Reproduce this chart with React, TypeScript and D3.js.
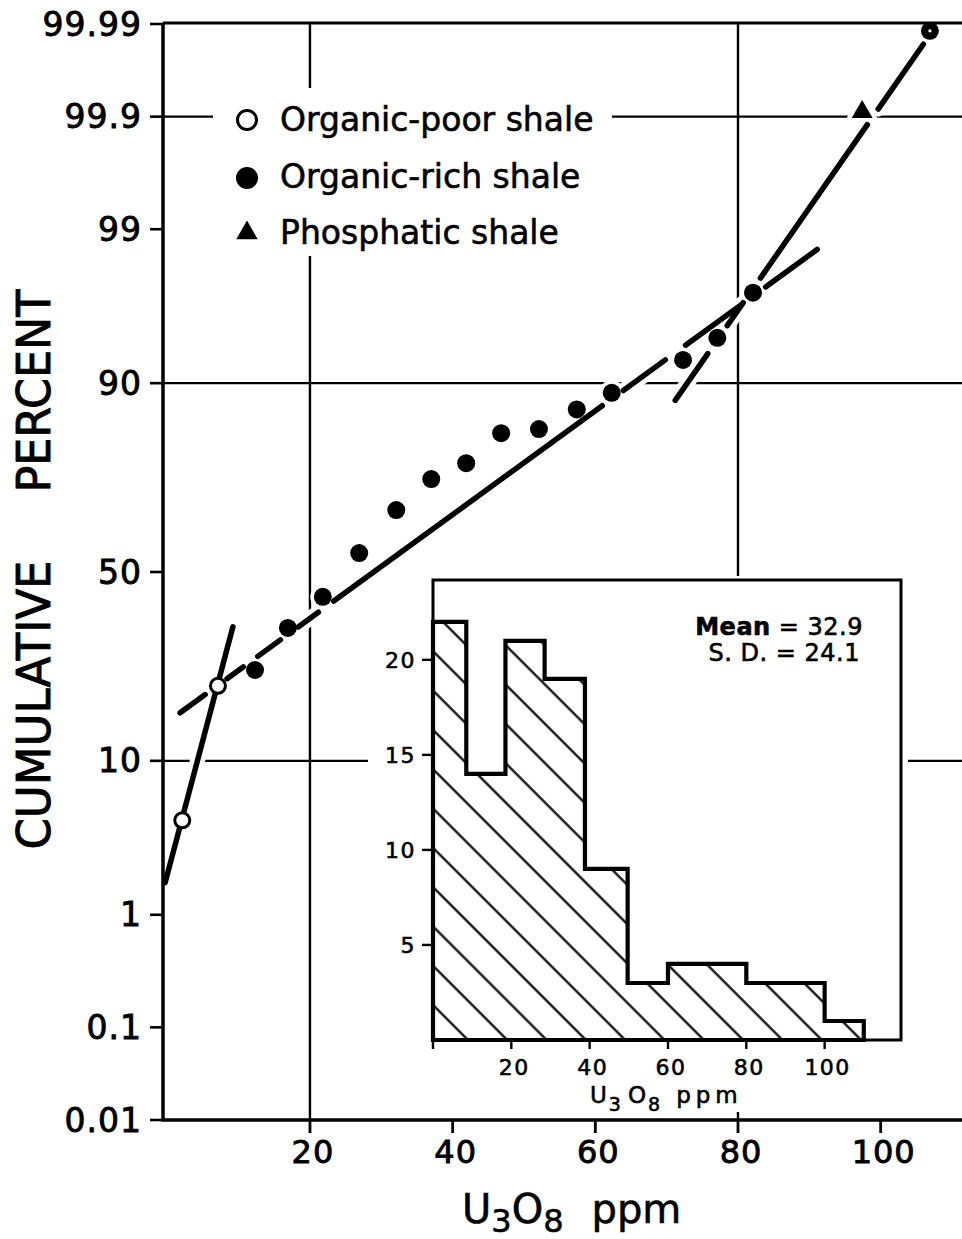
import React from "react";
import * as d3 from "d3";

// U3O8 cumulative probability plot
const poorPpm = [2.1, 7.1];
const poorPct = [4.6, 22.0];
const richPpm = [12.3, 16.9, 21.8, 26.9, 32.1, 37.0, 41.9, 46.8, 52.1, 57.4, 62.3, 72.3, 77.1, 82.1, 106.9];
const richPct = [25.3, 35.2, 43.3, 55.1, 66.3, 73.6, 77.0, 82.7, 83.4, 86.5, 88.8, 92.5, 94.4, 97.1, 99.988];
const phosPpm = [97.4];
const phosPct = [99.91];

// fitted populations (end points of each straight line)
const fitPpm = [[-0.3, 9.2], [1.8, 91.1], [71.2, 106.0]];
const fitPct = [[1.75, 35.5], [16.96, 98.57], [87.8, 99.983]];

const yTicks = [0.01, 0.1, 1, 10, 50, 90, 99, 99.9, 99.99];
const yTickLabels = ["0.01", "0.1", "1", "10", "50", "90", "99", "99.9", "99.99"];
const yGrid = [10, 90, 99.9];
const xTicks = [20, 40, 60, 80, 100];
const xGrid = [20, 80];

const legendNames = ["Organic-poor shale", "Organic-rich shale", "Phosphatic shale"];

// inset histogram
const binEdges = [0, 8.5, 18.5, 28.5, 38.8, 49.7, 60, 80, 100, 110];
const binCounts = [22, 14, 21, 19, 9, 3, 4, 3, 1];
const histXTicks = [0, 20, 40, 60, 80, 100];
const histYTicks = [5, 10, 15, 20];
const statLines = [["Mean", " = 32.9"], ["S. D.", " = 24.1"]];

// hand-drawn dash pattern of the fitted lines
const fitDash = [
  "none",
  "31 27 20 18 28 22 25 19 332 26 52 25 69 30 64",
  "57 34 28 30 187 19 79",
];

// inverse normal cdf (Acklam)
function probit(p: number) {
  const a = [-39.69683028665376, 220.9460984245205, -275.9285104469687, 138.357751867269, -30.66479806614716, 2.506628277459239];
  const b = [-54.47609879822406, 161.5858368580409, -155.6989798598866, 66.80131188771972, -13.28068155288572];
  const c = [-0.007784894002430293, -0.3223964580411365, -2.400758277161838, -2.549671010249855, 4.374664141464968, 2.938163982698783];
  const d = [0.007784695709041462, 0.3224671290700398, 2.445134137142996, 3.754408661907416];
  const pl = 0.02425;
  if (p < pl) {
    const q = Math.sqrt(-2 * Math.log(p));
    return (((((c[0] * q + c[1]) * q + c[2]) * q + c[3]) * q + c[4]) * q + c[5]) / ((((d[0] * q + d[1]) * q + d[2]) * q + d[3]) * q + 1);
  }
  if (p > 1 - pl) {
    const q = Math.sqrt(-2 * Math.log(1 - p));
    return -(((((c[0] * q + c[1]) * q + c[2]) * q + c[3]) * q + c[4]) * q + c[5]) / ((((d[0] * q + d[1]) * q + d[2]) * q + d[3]) * q + 1);
  }
  const q = p - 0.5, r = q * q;
  return (((((a[0] * r + a[1]) * r + a[2]) * r + a[3]) * r + a[4]) * r + a[5]) * q / (((((b[0] * r + b[1]) * r + b[2]) * r + b[3]) * r + b[4]) * r + 1);
}

const FONT = "DejaVu Sans";
// the lettering in the figure is a bit heavier than the regular face
const heavy = { stroke: "#000", strokeWidth: 0.9 };
const heavySmall = { stroke: "#000", strokeWidth: 0.6 };

export default function App() {
  const left = 163, right = 962, top = 23, bottom = 1120;
  const x = d3.scaleLinear().domain([-0.6, 111.4]).range([left, right]);
  const z = d3.scaleLinear().domain([probit(0.0001), probit(0.9999)]).range([1120, 24]);
  const y = (pct: number) => z(probit(pct / 100));

  const line = d3.line<[number, number]>();
  const fitPaths = fitPpm.map((pp, i) =>
    line(pp.map((p, j) => [x(p), y(fitPct[i][j])] as [number, number])) || ""
  );

  const poor = poorPpm.map((p, i) => [x(p), y(poorPct[i])]);
  const rich = richPpm.map((p, i) => [x(p), y(richPct[i])]);
  const phos = phosPpm.map((p, i) => [x(p), y(phosPct[i])]);
  const tri = d3.symbol(d3.symbolTriangle, 190)() || "";
  const triLegend = d3.symbol(d3.symbolTriangle, 200)() || "";

  // inset
  const hx = d3.scaleLinear().domain([0, 119.5]).range([433, 901]);
  const hy = d3.scaleLinear().domain([0, 24.2]).range([1040, 580]);
  const histPts: [number, number][] = [[hx(binEdges[0]), hy(0)]];
  binCounts.forEach((c, i) => {
    histPts.push([hx(binEdges[i]), hy(c)], [hx(binEdges[i + 1]), hy(c)]);
  });
  histPts.push([hx(binEdges[binEdges.length - 1]), hy(0)]);
  const histPath = line(histPts) + "Z";

  const haloR = 3.5;

  return (
    <svg width={962} height={1239} style={{ position: "absolute", left: 0, top: 0, background: "#fff" }}
      fontFamily={FONT}>
      <defs>
        <pattern id="hatch" patternUnits="userSpaceOnUse" width={27.8} height={27.8}
          patternTransform="rotate(-45)">
          <line x1={12.5} y1={0} x2={12.5} y2={27.8} stroke="#000" strokeWidth={2.2} />
        </pattern>
      </defs>
      <rect x={0} y={0} width={962} height={1239} fill="#fff" />

      {/* grid */}
      {yGrid.map(g => (
        <line key={"gy" + g} x1={left} x2={right} y1={y(g)} y2={y(g)} stroke="#000" strokeWidth={2.4} />
      ))}
      {xGrid.map(g => (
        <line key={"gx" + g} x1={x(g)} x2={x(g)} y1={top} y2={bottom} stroke="#000" strokeWidth={2.4} />
      ))}

      {/* blank areas behind legend and inset */}
      <rect x={213} y={88} width={399} height={168} fill="#fff" />
      <rect x={368} y={576} width={540} height={536} fill="#fff" />

      {/* halos */}
      {fitPaths.map((d, i) => (
        <path key={"h" + i} d={d} fill="none" stroke="#fff" strokeWidth={15}
          strokeDasharray={fitDash[i]} strokeLinecap="round" />
      ))}
      {[...poor, ...rich].map((p, i) => (
        <circle key={"hc" + i} cx={p[0]} cy={p[1]} r={9 + haloR} fill="#fff" />
      ))}
      {phos.map((p, i) => (
        <path key={"ht" + i} d={tri} transform={`translate(${p[0]},${p[1]})`} fill="#fff"
          stroke="#fff" strokeWidth={9} strokeLinejoin="round" />
      ))}

      {/* frame */}
      <line x1={left} x2={left} y1={top} y2={bottom} stroke="#000" strokeWidth={3.5} />
      <line x1={left} x2={right} y1={top} y2={top} stroke="#000" strokeWidth={3} />
      <line x1={left - 1.5} x2={right} y1={bottom} y2={bottom} stroke="#000" strokeWidth={3.5} />
      {yTicks.map((t, i) => (
        <g key={"yt" + t}>
          <line x1={150} x2={left} y1={y(t)} y2={y(t)} stroke="#000" strokeWidth={2.6} />
          <text x={142} y={y(t) + 11.5} textAnchor="end" fontSize={33} letterSpacing={1} {...heavy}>
            {yTickLabels[i]}
          </text>
        </g>
      ))}
      {xTicks.map(t => (
        <g key={"xt" + t}>
          <line x1={x(t)} x2={x(t)} y1={bottom} y2={bottom + 13} stroke="#000" strokeWidth={2.8} />
          <text x={x(t) + 3} y={1163} textAnchor="middle" fontSize={32} letterSpacing={1} {...heavy}>{t}</text>
        </g>
      ))}

      {/* fitted lines */}
      {fitPaths.map((d, i) => (
        <path key={"f" + i} d={d} fill="none" stroke="#000" strokeWidth={5.5}
          strokeDasharray={fitDash[i]} strokeLinecap="round" />
      ))}

      {/* points */}
      {poor.map((p, i) => (
        <circle key={"p" + i} cx={p[0]} cy={p[1]} r={7.5} fill="#fff" stroke="#000" strokeWidth={3} />
      ))}
      {rich.map((p, i) => (
        <circle key={"r" + i} cx={p[0]} cy={p[1]} r={9} fill="#000" />
      ))}
      {rich.slice(-1).map((p, i) => (
        <circle key={"rd" + i} cx={p[0]} cy={p[1]} r={1.6} fill="#fff" />
      ))}
      {phos.map((p, i) => (
        <path key={"t" + i} d={tri} transform={`translate(${p[0]},${p[1]})`} fill="#000" />
      ))}

      {/* legend */}
      <g>
        <circle cx={247} cy={120} r={9.5} fill="#fff" stroke="#000" strokeWidth={3} />
        <circle cx={247} cy={178} r={11} fill="#000" />
        <path d={triLegend} transform="translate(247,233)" fill="#000" />
        {legendNames.map((n, i) => (
          <text key={n} x={280} y={131 + i * 56.5} fontSize={33} {...heavySmall}>{n}</text>
        ))}
      </g>

      {/* inset histogram */}
      <g>
        <path d={histPath} fill="url(#hatch)" stroke="none" />
        <rect x={433} y={580} width={468} height={460} fill="none" stroke="#000" strokeWidth={3} />
        <path d={histPath} fill="none" stroke="#000" strokeWidth={4.2} strokeLinejoin="miter" />
        {histYTicks.map(t => (
          <g key={"hy" + t}>
            <line x1={422} x2={433} y1={hy(t)} y2={hy(t)} stroke="#000" strokeWidth={2.4} />
            <text x={416} y={hy(t) + 8} textAnchor="end" fontSize={22} letterSpacing={1.5} {...heavySmall}>{t}</text>
          </g>
        ))}
        {histXTicks.map(t => (
          <g key={"hx" + t}>
            <line x1={hx(t)} x2={hx(t)} y1={1040} y2={1049} stroke="#000" strokeWidth={2.4} />
            {t > 0 && (
              <text x={hx(t) + 3} y={1075} textAnchor="middle" fontSize={22} letterSpacing={1.5} {...heavySmall}>{t}</text>
            )}
          </g>
        ))}
        <text x={590} y={1103} fontSize={23} letterSpacing={2} {...heavySmall}>
          <tspan>U</tspan>
          <tspan fontSize={19} dy={8}>3</tspan>
          <tspan dx={5} dy={-8}>O</tspan>
          <tspan fontSize={19} dy={8}>8</tspan>
          <tspan dx={14} dy={-8} letterSpacing={5}>ppm</tspan>
        </text>
        {statLines.map((s, i) => (
          <text key={s[0]} x={i === 0 ? 863 : 860} y={635 + i * 26} textAnchor="end" fontSize={24}
            letterSpacing={0.5} {...heavySmall}>
            <tspan fontWeight={i === 0 ? "bold" : "normal"}>{s[0]}</tspan>
            <tspan>{s[1]}</tspan>
          </text>
        ))}
      </g>

      {/* axis titles */}
      <text x={462} y={1223} fontSize={40} {...heavySmall}>
        <tspan>U</tspan>
        <tspan fontSize={32} dy={9}>3</tspan>
        <tspan dy={-9}>O</tspan>
        <tspan fontSize={32} dy={9}>8</tspan>
        <tspan dx={28} dy={-9}>ppm</tspan>
      </text>
      <text transform="translate(50,705) rotate(-90)" textAnchor="middle" fontSize={47}
        textLength={289} lengthAdjust="spacingAndGlyphs" {...heavy}>CUMULATIVE</text>
      <text transform="translate(50,391) rotate(-90)" textAnchor="middle" fontSize={47}
        textLength={203} lengthAdjust="spacingAndGlyphs" {...heavy}>PERCENT</text>
    </svg>
  );
}
